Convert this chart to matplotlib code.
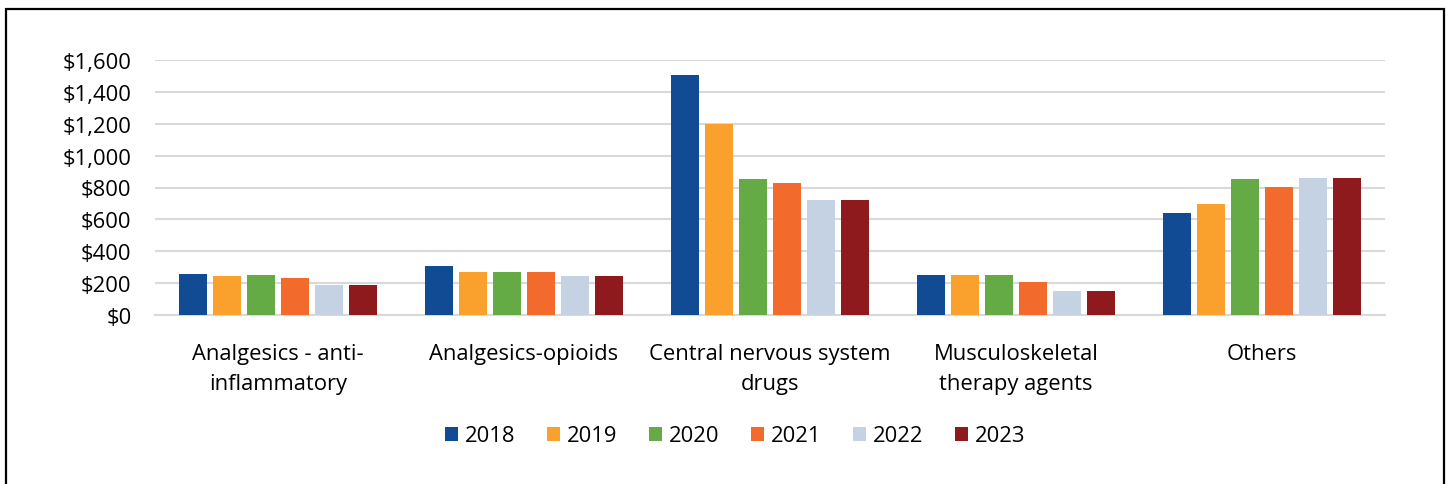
import numpy as np
import matplotlib
matplotlib.use("Agg")
import matplotlib.pyplot as plt
from matplotlib.patches import Rectangle

plt.rcParams['font.family'] = ['Open Sans', 'DejaVu Sans']

# data
categories = ['Analgesics - anti-\ninflammatory', 'Analgesics-opioids',
              'Central nervous system\ndrugs', 'Musculoskeletal\ntherapy agents', 'Others']
years = ['2018', '2019', '2020', '2021', '2022', '2023']
v2018 = [255, 305, 1504, 250, 641]
v2019 = [242, 267, 1199, 250, 698]
v2020 = [249, 272, 854, 250, 854]
v2021 = [232, 268, 827, 205, 806]
v2022 = [187, 245, 723, 150, 860]
v2023 = [190, 245, 723, 150, 860]
series = [v2018, v2019, v2020, v2021, v2022, v2023]
colors = ['#114B94', '#F9A12C', '#64AB45', '#F26B2C', '#C4D2E4', '#8E1A1E']

fs = 15.8

fig = plt.figure(figsize=(14.48, 4.85), dpi=100)
ax = fig.add_axes([155/1448, 1 - 316/485, 1230/1448, 255/485])

x = np.arange(len(categories))
slot = 0.1375
for i, (vals, c) in enumerate(zip(series, colors)):
    ax.bar(x + (i - 2.5) * slot, vals, width=slot * 0.83, color=c,
           label=years[i], zorder=3)

ax.set_xlim(-0.5, len(categories) - 0.5)
ax.set_ylim(0, 1600)
ax.set_yticks(range(0, 1601, 200))
ax.set_yticklabels([f'${v:,}' for v in range(0, 1601, 200)], fontsize=fs)
ax.set_xticks(x)
ax.set_xticklabels(categories, fontsize=fs, linespacing=1.6, va='top')
ax.tick_params(axis='both', length=0)
ax.tick_params(axis='x', pad=20)
ax.tick_params(axis='y', pad=17)
ax.yaxis.grid(True, color='#D9D9D9', linewidth=1.5, zorder=0)
ax.set_axisbelow(True)
for s in ['top', 'right', 'left']:
    ax.spines[s].set_visible(False)
ax.spines['bottom'].set_color('#D9D9D9')
ax.spines['bottom'].set_linewidth(1.5)

fig.legend(loc='center', bbox_to_anchor=(735/1448, 1 - 437/485), ncol=6,
           frameon=False, fontsize=fs, handlelength=0.6, handleheight=0.6,
           handletextpad=0.3, columnspacing=1.45)

# outer frame
fig.patches.append(Rectangle((6/1448, -0.05), 1438/1448, 1.05 - 10/485,
                             transform=fig.transFigure, fill=False,
                             edgecolor='black', linewidth=1.6))

fig.savefig('out.png', dpi=100)
